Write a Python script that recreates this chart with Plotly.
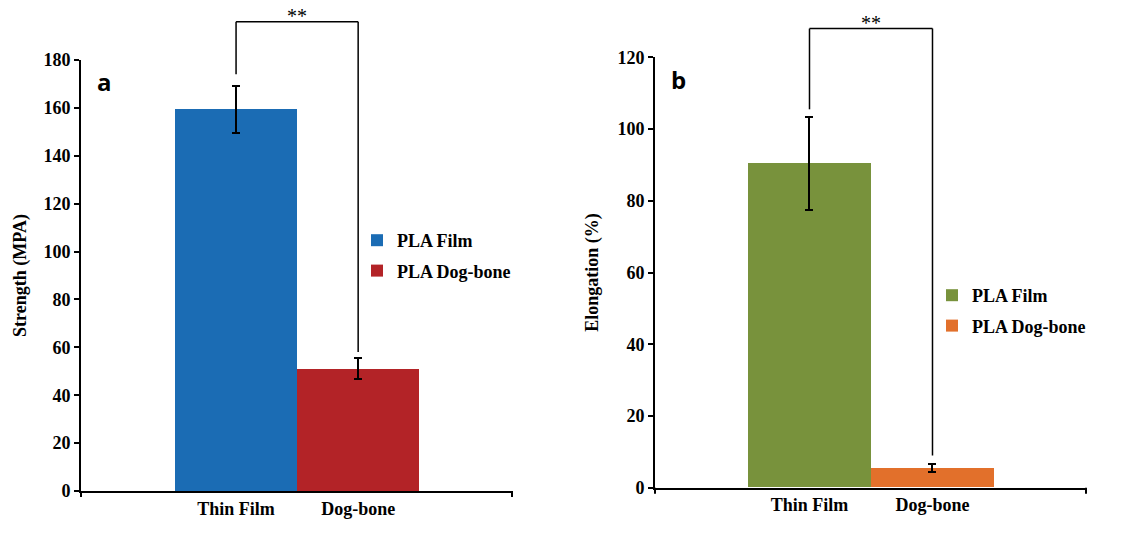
import plotly.graph_objects as go

# ---------------- data ----------------
categories = ["Thin Film", "Dog-bone"]
series_names = ["PLA Film", "PLA Dog-bone"]

strength = [159.5, 51.1]          # MPA
strength_err = [9.8, 4.3]
elongation = [90.4, 5.5]          # %
elongation_err = [13.0, 1.1]

colors_a = ["#1b6cb4", "#b32327"]
colors_b = ["#78923c", "#e2702b"]

# significance bracket: [top, left-leg bottom, right-leg bottom] in data units
bracket_a = [196, 174, 58]
bracket_b = [128, 105.5, 9.0]
sig_label = "**"

ymax_a, ystep_a = 180, 20
ymax_b, ystep_b = 120, 20
xrange_a = [-1.27, 2.26]
xrange_b = [-1.256, 2.248]

# ---------------- figure ----------------
W, H = 1130, 541
fig = go.Figure()

serif = "Liberation Serif"
black = "#000000"
FS = 18

def add_bars(vals, errs, cols, xa, ya, legend):
    for i, (cat, name) in enumerate(zip(categories, series_names)):
        fig.add_trace(go.Bar(
            x=[cat], y=[vals[i]], name="<b>" + name + "</b>", width=1.0,
            marker=dict(color=cols[i], line=dict(width=0)),
            error_y=dict(type="data", array=[errs[i]], visible=True,
                         color=black, thickness=2, width=4),
            xaxis=xa, yaxis=ya, legend=legend, legendgroup=legend + str(i),
            showlegend=True,
        ))

add_bars(strength, strength_err, colors_a, "x", "y", "legend")
add_bars(elongation, elongation_err, colors_b, "x2", "y2", "legend2")

axis_common = dict(showline=True, linecolor=black, linewidth=2, showgrid=False,
                   zeroline=False, automargin=False)

fig.update_layout(
    width=W, height=H, autosize=False,
    margin=dict(l=0, r=0, t=0, b=0),
    paper_bgcolor="white", plot_bgcolor="white",
    barmode="overlay", bargap=0,
    font=dict(family=serif, color=black),
    xaxis=dict(domain=[81 / W, 512 / W], range=xrange_a, type="category",
               categoryorder="array", categoryarray=categories, ticks="",
               tickfont=dict(size=FS, family=serif), anchor="y", **axis_common),
    yaxis=dict(domain=[1 - 491 / H, 1 - 60 / H], range=[0, ymax_a], dtick=ystep_a,
               tick0=0, ticks="outside", ticklen=5, tickwidth=2, tickcolor=black,
               tickfont=dict(size=FS, family=serif), anchor="x",
               title=dict(text="<b>Strength (MPA)</b>", font=dict(size=FS, family=serif),
                          standoff=12),
               **axis_common),
    xaxis2=dict(domain=[655 / W, 1086 / W], range=xrange_b, type="category",
                categoryorder="array", categoryarray=categories, ticks="",
                tickfont=dict(size=FS, family=serif), anchor="y2", **axis_common),
    yaxis2=dict(domain=[1 - 487.7 / H, 1 - 57.3 / H], range=[0, ymax_b], dtick=ystep_b,
                tick0=0, ticks="outside", ticklen=5, tickwidth=2, tickcolor=black,
                tickfont=dict(size=FS, family=serif), anchor="x2",
                title=dict(text="<b>Elongation (%)</b>", font=dict(size=FS, family=serif),
                           standoff=14),
                **axis_common),
    legend=dict(x=357 / W, y=1 - 222 / H, xanchor="left", yanchor="top",
                font=dict(size=FS, family=serif, color=black), bgcolor="rgba(0,0,0,0)",
                tracegroupgap=4, traceorder="grouped"),
    legend2=dict(x=932 / W, y=1 - 277 / H, xanchor="left", yanchor="top",
                 font=dict(size=FS, family=serif, color=black), bgcolor="rgba(0,0,0,0)",
                 tracegroupgap=4, traceorder="grouped"),
)

# bold tick labels
fig.update_xaxes(tickprefix="<b>", ticksuffix="</b>")
fig.update_yaxes(tickprefix="<b>", ticksuffix="</b>")

def fx(idx, xr):
    return (idx - xr[0]) / (xr[1] - xr[0])

def add_bracket(br, xr, ymax, xs, ys):
    xd, yd = xs + " domain", ys + " domain"
    xl, xrr = fx(0, xr), fx(1, xr)
    top, lb, rb = br[0] / ymax, br[1] / ymax, br[2] / ymax
    ln = dict(color=black, width=1.5)
    fig.add_shape(type="line", xref=xd, yref=yd, x0=xl, x1=xl, y0=lb, y1=top, line=ln)
    fig.add_shape(type="line", xref=xd, yref=yd, x0=xl, x1=xrr, y0=top, y1=top, line=ln)
    fig.add_shape(type="line", xref=xd, yref=yd, x0=xrr, x1=xrr, y0=rb, y1=top, line=ln)
    fig.add_annotation(xref=xd, yref=yd, x=(xl + xrr) / 2, y=top, text=sig_label,
                       showarrow=False, yanchor="bottom", yshift=-7,
                       font=dict(size=20, family=serif, color=black))
    # category-axis end ticks
    for xe in (0, 1):
        fig.add_shape(type="line", xref=xd, yref=yd, x0=xe, x1=xe, y0=0, y1=-0.014,
                      line=dict(color=black, width=2))

add_bracket(bracket_a, xrange_a, ymax_a, "x", "y")
add_bracket(bracket_b, xrange_b, ymax_b, "x2", "y2")

# panel letters
fig.add_annotation(xref="x domain", yref="y domain", x=(104 - 81) / 431,
                   y=(491 - 82) / 431, text="<b>a</b>", showarrow=False,
                   xanchor="center", yanchor="middle",
                   font=dict(size=24, family="Open Sans", color=black))
fig.add_annotation(xref="x2 domain", yref="y2 domain", x=(678 - 655) / 431,
                   y=(487.7 - 80) / 430.4, text="<b>b</b>", showarrow=False,
                   xanchor="center", yanchor="middle",
                   font=dict(size=24, family="Open Sans", color=black))

fig.write_html("out.html")
